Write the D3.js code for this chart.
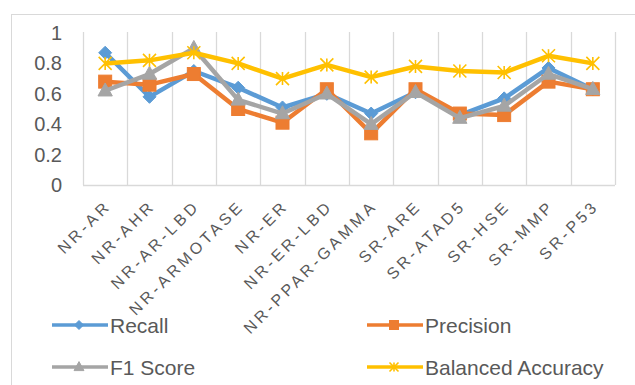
<!DOCTYPE html>
<html>
<head>
<meta charset="utf-8">
<script src="https://cdn.jsdelivr.net/npm/d3@7"></script>
<style>
  html, body { margin: 0; padding: 0; background: #fff; }
  svg { display: block; }
  text { font-family: "Liberation Sans", Arial, sans-serif; fill: #595959; }
</style>
</head>
<body>
<svg id="chart" width="635" height="385"></svg>
<script>
// Tox21 task scores per metric
const categories = ["NR-AR", "NR-AHR", "NR-AR-LBD", "NR-ARMOTASE", "NR-ER", "NR-ER-LBD",
  "NR-PPAR-GAMMA", "SR-ARE", "SR-ATAD5", "SR-HSE", "SR-MMP", "SR-P53"];
const recall    = [0.87, 0.58, 0.75, 0.64, 0.51, 0.60, 0.47, 0.61, 0.46, 0.57, 0.77, 0.63];
const precision = [0.68, 0.66, 0.73, 0.50, 0.41, 0.63, 0.34, 0.63, 0.47, 0.46, 0.68, 0.63];
const f1Score   = [0.62, 0.73, 0.90, 0.56, 0.47, 0.60, 0.40, 0.61, 0.44, 0.52, 0.73, 0.63];
const balancedAccuracy = [0.80, 0.82, 0.87, 0.80, 0.70, 0.79, 0.71, 0.78, 0.75, 0.74, 0.85, 0.80];
const yTicks = [0, 0.2, 0.4, 0.6, 0.8, 1];
const yTickLabels = ["0", "0.2", "0.4", "0.6", "0.8", "1"];

const series = [
  { name: "Recall", values: recall, color: "#5B9BD5", marker: "diamond" },
  { name: "Precision", values: precision, color: "#ED7D31", marker: "square" },
  { name: "F1 Score", values: f1Score, color: "#A5A5A5", marker: "triangle" },
  { name: "Balanced Accuracy", values: balancedAccuracy, color: "#FFC000", marker: "star" }
];

const svg = d3.select("#chart");

// outer chart frame
svg.append("rect")
  .attr("x", 11.5).attr("y", 14.5)
  .attr("width", 660).attr("height", 400)
  .attr("fill", "none").attr("stroke", "#d9d9d9").attr("stroke-width", 1);

const plot = { left: 83, right: 615, top: 33, bottom: 185 };

const x = d3.scaleBand().domain(categories).range([plot.left, plot.right]);
const y = d3.scaleLinear().domain([0, 1]).range([plot.bottom, plot.top]);

// vertical gridlines at category boundaries
const edges = categories.map(c => x(c)).concat([x.range()[1]]);
svg.append("g").selectAll("line").data(edges).join("line")
  .attr("x1", d => Math.round(d) + 0.5).attr("x2", d => Math.round(d) + 0.5)
  .attr("y1", plot.top - 1).attr("y2", plot.bottom)
  .attr("stroke", "#d9d9d9").attr("stroke-width", 1.3);

// horizontal axis line
svg.append("line")
  .attr("x1", plot.left).attr("x2", plot.right)
  .attr("y1", plot.bottom + 0.5).attr("y2", plot.bottom + 0.5)
  .attr("stroke", "#d9d9d9").attr("stroke-width", 1.3);

// y axis labels
const yAxis = svg.append("g")
  .attr("transform", `translate(${plot.left},0)`)
  .call(d3.axisLeft(y).tickValues(yTicks).tickSize(0).tickPadding(21)
    .tickFormat((d, i) => yTickLabels[i]));
yAxis.select(".domain").remove();
yAxis.selectAll("text")
  .attr("font-size", 20)
  .attr("font-family", "'Liberation Sans', Arial, sans-serif")
  .attr("fill", "#595959");

// x axis labels, rotated
const xAxis = svg.append("g")
  .attr("transform", `translate(0,${plot.bottom})`)
  .call(d3.axisBottom(x).tickSize(0).tickPadding(0));
xAxis.select(".domain").remove();
xAxis.selectAll(".tick text")
  .attr("font-size", 16)
  .attr("font-family", "'Liberation Sans', Arial, sans-serif")
  .attr("fill", "#595959")
  .attr("letter-spacing", "3.4px")
  .attr("text-anchor", "end")
  .attr("dominant-baseline", "hanging")
  .attr("y", 0).attr("dy", 0)
  .attr("transform", "translate(-1,14) rotate(-45)");

// marker shapes
function drawMarker(g, type, color, size) {
  const s = size;
  if (type === "diamond") {
    g.append("path").attr("d", `M0,${-s / 2}L${s / 2},0L0,${s / 2}L${-s / 2},0Z`)
      .attr("fill", color).attr("stroke", color).attr("stroke-width", 1);
  } else if (type === "square") {
    g.append("rect").attr("x", -s / 2).attr("y", -s / 2).attr("width", s).attr("height", s)
      .attr("fill", color).attr("stroke", color).attr("stroke-width", 1);
  } else if (type === "triangle") {
    g.append("path").attr("d", `M0,${-s * 0.6}L${s * 0.55},${s * 0.4}L${-s * 0.55},${s * 0.4}Z`)
      .attr("fill", color).attr("stroke", color).attr("stroke-width", 1);
  } else if (type === "star") {
    const h = s / 2;
    g.append("path")
      .attr("d", `M${-h},${-h}L${h},${h}M${h},${-h}L${-h},${h}M0,${-h}L0,${h}`)
      .attr("fill", "none").attr("stroke", color).attr("stroke-width", 1.6);
  }
}

const line = d3.line()
  .x((d, i) => x(categories[i]) + x.bandwidth() / 2)
  .y(d => y(d));

series.forEach(s => {
  const g = svg.append("g");
  g.append("path")
    .attr("d", line(s.values))
    .attr("fill", "none")
    .attr("stroke", s.color)
    .attr("stroke-width", 4.5)
    .attr("stroke-linejoin", "round");
  s.values.forEach((v, i) => {
    const m = g.append("g")
      .attr("transform", `translate(${x(categories[i]) + x.bandwidth() / 2},${y(v)})`);
    drawMarker(m, s.marker, s.color, 13);
  });
});

// legend
const legendPos = [
  { x: 52, y: 325 }, { x: 367, y: 325 },
  { x: 52, y: 367 }, { x: 367, y: 367 }
];
series.forEach((s, i) => {
  const p = legendPos[i];
  const g = svg.append("g").attr("transform", `translate(${p.x},${p.y})`);
  g.append("line").attr("x1", 0).attr("x2", 56).attr("y1", 0).attr("y2", 0)
    .attr("stroke", s.color).attr("stroke-width", 3.5);
  const m = g.append("g").attr("transform", "translate(27,0)");
  drawMarker(m, s.marker, s.color, 9);
  g.append("text")
    .attr("x", 58).attr("y", 0)
    .attr("dy", "0.36em")
    .attr("font-size", 21)
    .text(s.name);
});
</script>
</body>
</html>
